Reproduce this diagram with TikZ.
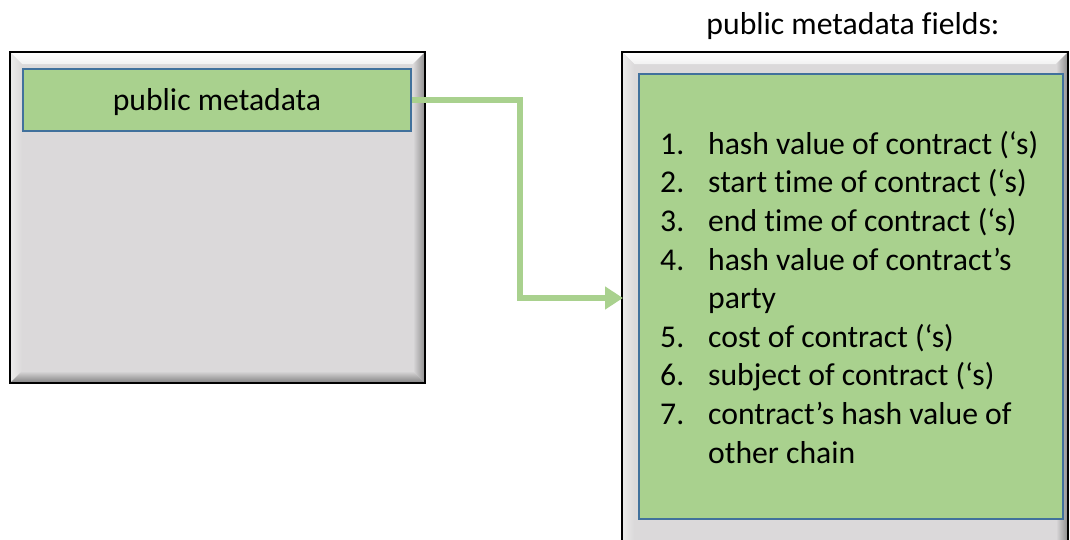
\documentclass[tikz,border=0pt]{standalone}
\usepackage{fontspec}
\setmainfont{Carlito}[Ligatures=NoCommon]
\usetikzlibrary{arrows.meta}
\definecolor{gface}{HTML}{DBD9DA}
\definecolor{lgreen}{HTML}{A9D18E}
\definecolor{bborder}{HTML}{41719C}
\newcommand\bevelpanel[5]{%
  \fill[gface] (#1,#2) rectangle (#3,#4);
  \shade[top color=white, bottom color=white!90!gray] (#1,#2) -- (#3,#2) -- (#3-#5,#2+#5) -- (#1+#5,#2+#5) -- cycle;
  \shade[left color=white!85!gray, right color=gface] (#1,#2) -- (#1+#5,#2+#5) -- (#1+#5,#4-#5) -- (#1,#4) -- cycle;
  \shade[left color=gface, right color=black!45] (#3,#2) -- (#3,#4) -- (#3-#5,#4-#5) -- (#3-#5,#2+#5) -- cycle;
  \shade[top color=gface, bottom color=black!50] (#1,#4) -- (#3,#4) -- (#3-#5,#4-#5) -- (#1+#5,#4-#5) -- cycle;
  \draw[black, line width=1.6pt] (#1,#2) rectangle (#3,#4);
}
\tikzset{
  txt/.style={font=\fontsize{31.7}{38.6}\selectfont, text=black},
  greenbox/.style={fill=lgreen, draw=bborder, line width=1.5pt, inner sep=0pt},
  flow/.style={draw=lgreen, line width=6pt, -{Triangle[length=18pt,width=22pt]}},
}
\begin{document}
\begin{tikzpicture}[x=1pt,y=-1pt]
\useasboundingbox (0,0) rectangle (1070,539);
\begin{scope}
\clip (0,0) rectangle (1070,539);
\bevelpanel{10}{52}{425}{383}{12}
\bevelpanel{622}{52}{1068}{552}{12}
\end{scope}
\node[greenbox, minimum width=388pt, minimum height=62pt, txt, text height=26pt, text depth=6pt] (pm) at (217,100) {public metadata};
\node[greenbox, minimum width=424pt, minimum height=445pt] (fields) at (851,296.5) {};
\node[txt, anchor=base] (title) at (853,34) {public metadata fields:};
\node[txt, anchor=west, inner sep=0pt, align=left] (list) at (660,301) {%
\begin{tabular}{@{}p{48pt}@{}l@{}}
1. & hash value of contract (‘s)\\
2. & start time of contract (‘s)\\
3. & end time of contract (‘s)\\
4. & hash value of contract’s\\
   & party\\
5. & cost of contract (‘s)\\
6. & subject of contract (‘s)\\
7. & contract’s hash value of\\
   & other chain
\end{tabular}};
\coordinate (tip) at (623,298);
\draw[flow] (pm.east) -- ++(108,0) |- (tip);
\end{tikzpicture}
\end{document}
